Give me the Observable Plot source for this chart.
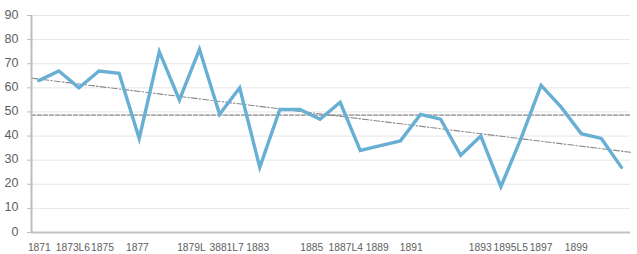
<!DOCTYPE html>
<html>
<head>
<meta charset="utf-8">
<script src="https://cdn.jsdelivr.net/npm/d3@7"></script>
<script src="https://cdn.jsdelivr.net/npm/@observablehq/plot@0.6"></script>
<style>
  html, body { margin: 0; padding: 0; background: #fff; }
  #chart svg { display: block; }
</style>
</head>
<body>
<div id="chart"></div>
<script>
const years = [1871,1872,1873,1874,1875,1876,1877,1878,1879,1880,1881,1882,1883,1884,1885,1886,1887,1888,1889,1890,1891,1892,1893,1894,1895,1896,1897,1898,1899,1900];
const values = [63,67,60,67,66,39,75,55,76,49,60,27,51,51,47,54,34,36,38,49,47,32,40,19,39,61,52,41,39,27];
const yTicks = [0,10,20,30,40,50,60,70,80,90];
const xLabels = ["1871","1873L6","1875","1877","1879L","3881L7","1883","1885","1887L4","1889","1891","1893","1895L5","1897","1899"];
const xLabelAt = [1871.03,1872.70,1874.17,1875.91,1878.60,1880.35,1881.90,1884.59,1886.28,1887.85,1889.54,1892.97,1894.49,1896.0,1897.75];

const data = years.map((year, i) => ({year, value: values[i]}));
const labels = xLabels.map((label, i) => ({label, x: xLabelAt[i]}));
const xDomain = [1870.64, 1900.45];

// mean and least-squares trend (as a spreadsheet trendline)
const mean = d3.mean(values);
const mx = d3.mean(years);
const slope = d3.sum(data, d => (d.year - mx) * (d.value - mean)) / d3.sum(data, d => (d.year - mx) ** 2);
const trend = xDomain.map(x => ({year: x, value: mean + slope * (x - mx)}));
const meanLine = xDomain.map(x => ({year: x, value: mean}));

const font = "'Liberation Sans', Arial, sans-serif";

const chart = Plot.plot({
  width: 637,
  height: 254,
  marginLeft: 31,
  marginRight: 7,
  marginTop: 15,
  marginBottom: 22,
  style: {fontFamily: font, background: "#fff", overflow: "visible"},
  x: {type: "linear", domain: xDomain, axis: null},
  y: {type: "linear", domain: [0, 90], axis: null},
  marks: [
    Plot.ruleY(yTicks.filter(d => d > 0), {x1: xDomain[0], x2: xDomain[1], stroke: "#e6e6e6", strokeWidth: 1}),
    Plot.ruleY(yTicks, {x1: xDomain[0], x2: xDomain[0], insetLeft: -4, stroke: "#bbb", strokeWidth: 1}),
    Plot.line(meanLine, {x: "year", y: "value", stroke: "#a8a8a8", strokeWidth: 1.6, strokeDasharray: "4,2"}),
    Plot.line(trend, {x: "year", y: "value", stroke: "#8a8a8a", strokeWidth: 1.1, strokeDasharray: "6,2,1.5,2"}),
    Plot.line(data, {x: "year", y: "value", stroke: "#68afd4", strokeWidth: 3.4, strokeLinejoin: "miter", strokeMiterlimit: 4}),
    Plot.ruleX([xDomain[0]], {y1: 0, y2: 90, stroke: "#bdbdbd", strokeWidth: 2}),
    Plot.ruleY([0], {x1: xDomain[0], x2: xDomain[1], stroke: "#c2c2c2", strokeWidth: 2.2}),
    Plot.text(yTicks, {x: xDomain[0], y: d => d, text: d => String(d), textAnchor: "end", dx: -13, dy: -1, fontSize: 12.5, fill: "#5e5e5e"}),
    Plot.text(labels, {x: "x", y: 0, text: "label", textAnchor: "middle", dy: 15, fontSize: 10.3, fill: "#5e5e5e"})
  ]
});
document.getElementById("chart").appendChild(chart);
</script>
</body>
</html>
